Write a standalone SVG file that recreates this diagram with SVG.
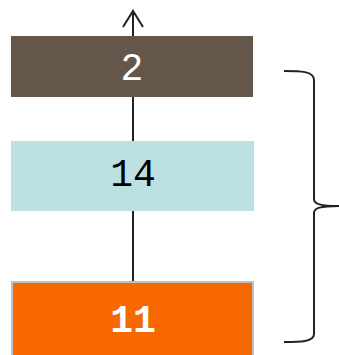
<svg xmlns="http://www.w3.org/2000/svg" width="339" height="355" viewBox="0 0 339 355">
<style>
.ln{fill:none;stroke:#222;stroke-width:2;stroke-linecap:butt}
.t{font-family:"Liberation Mono","DejaVu Sans Mono",monospace;font-size:38px;text-anchor:middle}
</style>
<rect width="339" height="355" fill="#fff"/>
<g id="connectors">
<line class="ln" x1="133" y1="11" x2="133" y2="282"/>
<polyline class="ln" points="123,27 133,11 143,27"/>
</g>
<g id="node-2">
<rect x="11" y="36" width="242" height="61" fill="#64574a"/>
<text class="t" x="132" y="80" fill="#fff">2</text>
</g>
<g id="node-14">
<rect x="11" y="141" width="243" height="70" fill="#bde0e3"/>
<text class="t" x="133" y="186" fill="#000">14</text>
</g>
<g id="node-11">
<rect x="12" y="282" width="241" height="80" fill="#f76900" stroke="#c0c0c0" stroke-width="2"/>
<text class="t" x="133" y="332" fill="#fff" font-weight="bold">11</text>
</g>
<g id="brace">
<path class="ln" d="M284,71 C300,71 314,71 314,80 L314,199 C314,204 320,206 340,206 C320,206 314,208 314,213 L314,334 C314,342 300,342 284,342"/>
</g>
</svg>
